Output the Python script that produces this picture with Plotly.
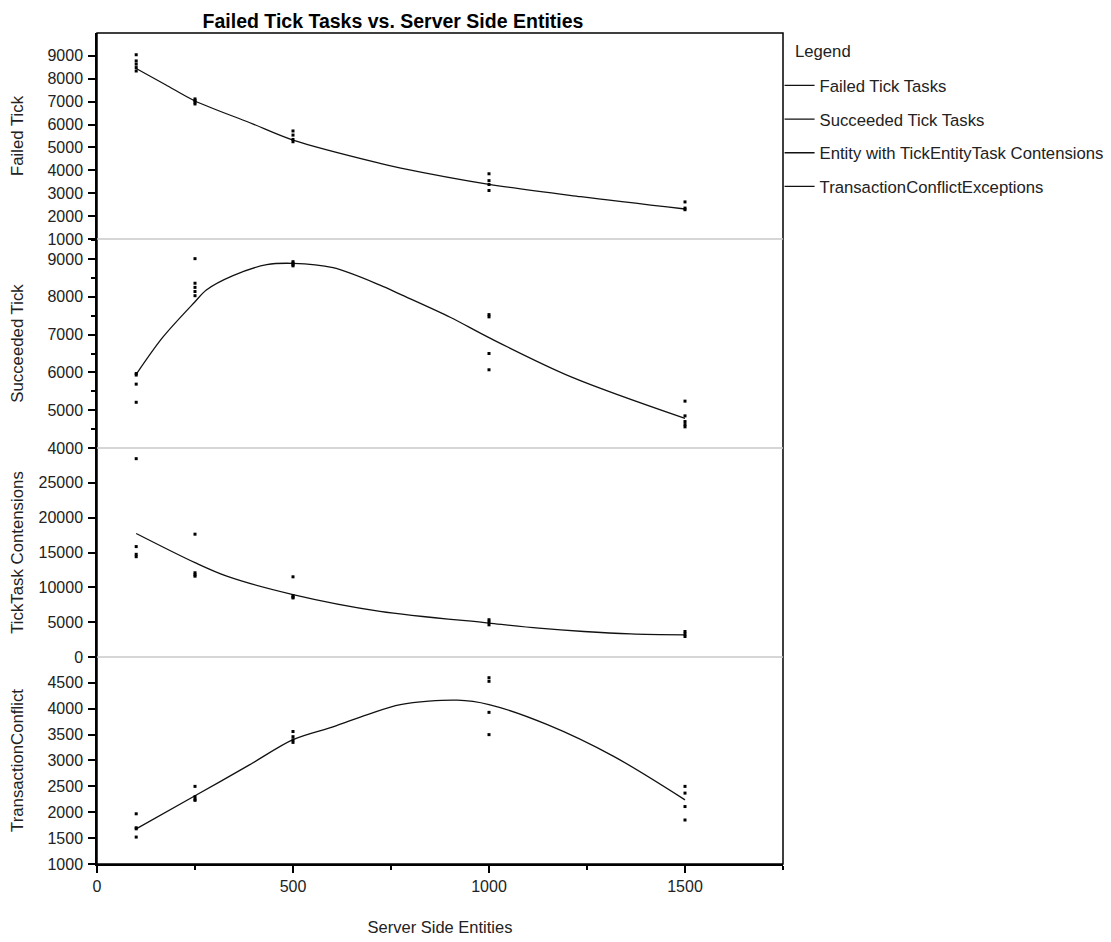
import plotly.graph_objects as go

# ---------------- data ----------------
failed_x = [100, 100, 100, 100, 100, 250, 250, 250, 250, 500, 500, 500, 500,
            1000, 1000, 1000, 1000, 1500, 1500, 1500]
failed_y = [9050, 8780, 8640, 8490, 8340, 7120, 7050, 6980, 6900, 5720, 5540, 5350, 5250,
            3850, 3550, 3380, 3120, 2620, 2350, 2280]
failed_fit_x = [100, 175, 250, 390, 500, 722, 775, 1000, 1234, 1500]
failed_fit_y = [8450, 7740, 7030, 6080, 5320, 4305, 4100, 3390, 2850, 2310]

succ_x = [100, 100, 100, 100, 250, 250, 250, 250, 250, 500, 500, 500, 500,
          1000, 1000, 1000, 1000, 1500, 1500, 1500, 1500, 1500]
succ_y = [5970, 5930, 5690, 5210, 9010, 8360, 8250, 8140, 8030, 8930, 8890, 8850, 8820,
          7530, 7470, 6500, 6070, 5240, 4850, 4700, 4620, 4560]
succ_fit_x = [100, 167, 250, 279, 347, 433, 500, 602, 722, 774, 901, 1000, 1208, 1500]
succ_fit_y = [5950, 6920, 7870, 8180, 8560, 8850, 8886, 8770, 8310, 8066, 7460, 6920, 5890, 4785]

cont_x = [100, 100, 100, 100, 250, 250, 250, 250, 500, 500, 500, 500,
          1000, 1000, 1000, 1500, 1500, 1500]
cont_y = [28470, 15850, 14740, 14400, 17630, 12090, 11800, 11600, 11510, 8810, 8600, 8480,
          5350, 5000, 4620, 3660, 3300, 2940]
cont_fit_x = [100, 250, 331, 500, 722, 1000, 1127, 1242, 1362, 1500]
cont_fit_y = [17730, 13540, 11600, 8960, 6550, 4870, 4140, 3660, 3320, 3180]

tx_x = [100, 100, 100, 100, 250, 250, 250, 250, 500, 500, 500, 500,
        1000, 1000, 1000, 1000, 1500, 1500, 1500, 1500]
tx_y = [1970, 1700, 1680, 1520, 2500, 2300, 2250, 2230, 3560, 3460, 3400, 3350,
        4600, 4530, 3930, 3500, 2500, 2370, 2110, 1850]
tx_fit_x = [100, 250, 390, 500, 602, 690, 774, 919, 1000, 1149, 1318, 1500]
tx_fit_y = [1678, 2318, 2920, 3403, 3650, 3888, 4081, 4165, 4081, 3693, 3080, 2240]

legend_names = ["Failed Tick Tasks", "Succeeded Tick Tasks",
                "Entity with TickEntityTask Contensions", "TransactionConflictExceptions"]
legend_heading = "Legend"
axis_titles = ["Failed Tick", "Succeeded Tick", "TickTask Contensions", "TransactionConflict"]
x_title = "Server Side Entities"
chart_title = "Failed Tick Tasks vs. Server Side Entities"

# ---------------- figure ----------------
# the page body adds an 8px offset; plot area spans (fig px) x 89..775, y 25..856
W, H = 1120, 934
L, T = 89, 25
R, B = W - 775, H - 856
FONT = "Liberation Sans, Arial, sans-serif"
INK = "#111111"
TXT = "#222222"

panels = [
    (failed_x, failed_y, failed_fit_x, failed_fit_y),
    (succ_x, succ_y, succ_fit_x, succ_fit_y),
    (cont_x, cont_y, cont_fit_x, cont_fit_y),
    (tx_x, tx_y, tx_fit_x, tx_fit_y),
]
yrefs = ["y", "y2", "y3", "y4"]

fig = go.Figure()
for i, (px_, py_, fx, fy) in enumerate(panels):
    fig.add_trace(go.Scatter(
        x=fx, y=fy, mode="lines", name=legend_names[i], legendgroup=f"g{i}",
        line=dict(color=INK, width=1.3, shape="spline", smoothing=0.9),
        xaxis="x", yaxis=yrefs[i], hoverinfo="skip"))
    fig.add_trace(go.Scatter(
        x=px_, y=py_, mode="markers", showlegend=False,
        marker=dict(symbol="square", size=3, color="black"),
        xaxis="x", yaxis=yrefs[i]))

bounds = [0.0, 0.2491, 0.5006, 0.7521, 1.0]
domains = [[bounds[3], bounds[4]], [bounds[2], bounds[3]], [bounds[1], bounds[2]], [bounds[0], bounds[1]]]
ranges = [[1000, 10000], [4000, 9530], [0, 30000], [1000, 5000]]
tickvals = [list(range(1000, 10000, 1000)), list(range(4000, 9500, 1000)),
            list(range(0, 30000, 5000)), list(range(1000, 5000, 500))]
standoffs = [20, 20, 12, 20]

common_y = dict(showgrid=False, zeroline=False, showline=True, linecolor="black", linewidth=1.5,
                ticks="outside", ticklen=7, tickcolor="black", tickwidth=1.5, tickformat="d",
                ticklabelstandoff=2, automargin=False,
                tickfont=dict(family=FONT, size=16, color=TXT))
layout_axes = {}
for i in range(4):
    key = "yaxis" if i == 0 else f"yaxis{i+1}"
    ax = dict(common_y, domain=domains[i], range=ranges[i], tickvals=tickvals[i],
              anchor="x",
              title=dict(text=axis_titles[i], font=dict(family=FONT, size=16.8, color=TXT),
                         standoff=standoffs[i]))
    if i == 1:
        ax["minor"] = dict(dtick=500, ticks="outside", ticklen=4, tickcolor="black", showgrid=False)
    layout_axes[key] = ax

fig.update_layout(
    width=W, height=H,
    margin=dict(l=L, r=R, t=T, b=B),
    paper_bgcolor="white", plot_bgcolor="white",
    title=dict(text=f"<b>{chart_title}</b>", x=385 / W, xanchor="center",
               y=1 - 6 / H, yanchor="top", xref="container", yref="container",
               pad=dict(t=0, b=0, l=0, r=0),
               font=dict(family=FONT, size=19.5, color="black")),
    xaxis=dict(range=[0, 1750], tickvals=[0, 500, 1000, 1500], anchor="y4", domain=[0, 1],
               showgrid=False, zeroline=False, showline=True, linecolor="black", linewidth=1.5,
               ticks="outside", ticklen=7, tickcolor="black", tickwidth=1.5, automargin=False,
               minor=dict(dtick=250, ticks="outside", ticklen=4, tickcolor="black", showgrid=False),
               tickfont=dict(family=FONT, size=16, color=TXT),
               title=dict(text=x_title, font=dict(family=FONT, size=16.5, color=TXT), standoff=27)),
    showlegend=True,
    legend=dict(x=0.995, xanchor="left", y=0.9579, yanchor="top",
                font=dict(family=FONT, size=16.7, color=TXT),
                tracegroupgap=9, itemwidth=30, bgcolor="rgba(0,0,0,0)"),
    annotations=[dict(text=legend_heading, xref="paper", yref="paper",
                      x=1 + (785 - (W - R)) / (W - L - R), xanchor="left",
                      y=1 - (44 - T) / (H - T - B), yanchor="middle", showarrow=False,
                      font=dict(family=FONT, size=16.7, color=TXT))],
    **layout_axes,
)

shapes = [dict(type="rect", xref="paper", yref="paper", x0=0, x1=1, y0=0, y1=1,
               line=dict(color="black", width=1.5))]
for b in bounds[1:4]:
    shapes.append(dict(type="line", xref="paper", yref="paper", x0=0, x1=1, y0=b, y1=b,
                       line=dict(color="#c8c8c8", width=1.5)))
fig.update_layout(shapes=shapes)

fig.write_html("out.html")
